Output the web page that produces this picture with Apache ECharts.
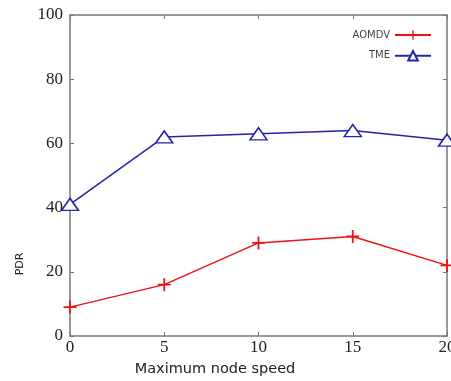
<!DOCTYPE html>
<html>
<head>
<meta charset="utf-8">
<title></title>
<style type="text/css">
    html, body { margin: 0; padding: 0; background: #fff; }
    #main { width: 451px; height: 381px; }
</style>
</head>
<body>
<div id="main"></div>
<script type="text/javascript" src="https://cdn.jsdelivr.net/npm/echarts@6/dist/echarts.min.js"></script>
<script type="text/javascript">
    // 数据
    var speeds = [0, 5, 10, 15, 20];
    var aomdv = [9, 16, 29, 31, 22];
    var tme = [41, 62, 63, 64, 61];
    var xTicks = [0, 5, 10, 15, 20];
    var yTicks = [0, 20, 40, 60, 80, 100];

    var pairs = function (xs, ys) {
        var res = [];
        for (var i = 0; i < xs.length; i++) {
            res.push([xs[i], ys[i]]);
        }
        return res;
    };

    var myChart = echarts.init(document.getElementById('main'));
    var axisGray = '#777';
    var serif = '"Liberation Serif", "DejaVu Serif", serif';
    var plus = 'path://M5.6,0h1.8v5.6h5.6v1.8h-5.6v5.6h-1.8v-5.6h-5.6v-1.8h5.6z';

    var frameAxis = function () {
        return {
            axisLine: {show: true, onZero: false, lineStyle: {color: axisGray, width: 1.5}},
            axisTick: {show: true, inside: true, length: 4, lineStyle: {color: axisGray}},
            splitLine: {show: false}
        };
    };

    var option = {
        backgroundColor: '#fff',
        animation: false,
        grid: {left: 70, right: 4, top: 15, bottom: 45, outerBoundsMode: 'none', containLabel: false},
        legend: {
            orient: 'vertical',
            right: 14,
            top: 25,
            align: 'right',
            itemGap: 10,
            itemWidth: 36,
            itemHeight: 12,
            textStyle: {fontSize: 10, color: '#444', fontFamily: 'DejaVu Sans'},
            data: ['AOMDV', 'TME']
        },
        xAxis: [
            Object.assign({
                type: 'value', min: xTicks[0], max: xTicks[xTicks.length - 1], interval: 5,
                position: 'bottom',
                axisLabel: {
                    color: '#222', fontSize: 17, fontFamily: serif, margin: 3
                }
            }, frameAxis()),
            Object.assign({
                type: 'value', min: 0, max: 20, interval: 5, position: 'top',
                axisLabel: {show: false}
            }, frameAxis())
        ],
        yAxis: [
            Object.assign({
                type: 'value', min: yTicks[0], max: yTicks[yTicks.length - 1], interval: 20,
                position: 'left',
                axisLabel: {
                    color: '#222', fontSize: 17, fontFamily: serif, margin: 7
                }
            }, frameAxis()),
            Object.assign({
                type: 'value', min: 0, max: 100, interval: 20, position: 'right',
                axisLabel: {show: false}
            }, frameAxis())
        ],
        graphic: [
            {
                type: 'text', x: 20, y: 264, rotation: Math.PI / 2,
                style: {text: 'PDR', fontSize: 11, fill: '#222', fontFamily: 'DejaVu Sans',
                    align: 'center', verticalAlign: 'middle'}
            },
            {
                type: 'text', x: 215, y: 369,
                style: {text: 'Maximum node speed', fontSize: 14.5, fill: '#222', fontFamily: 'DejaVu Sans',
                    align: 'center', verticalAlign: 'middle'}
            }
        ],
        series: [
            {
                name: 'AOMDV',
                type: 'line',
                data: pairs(speeds, aomdv),
                symbol: plus,
                symbolSize: 13,
                lineStyle: {color: '#ee1111', width: 1.5},
                itemStyle: {color: '#ee1111'}
            },
            {
                name: 'TME',
                type: 'line',
                data: pairs(speeds, tme),
                symbol: 'triangle',
                symbolSize: [17, 12],
                lineStyle: {color: '#2424a8', width: 1.5},
                itemStyle: {color: '#fff', borderColor: '#2424a8', borderWidth: 1.5}
            }
        ]
    };

    myChart.setOption(option);
</script>
</body>
</html>
